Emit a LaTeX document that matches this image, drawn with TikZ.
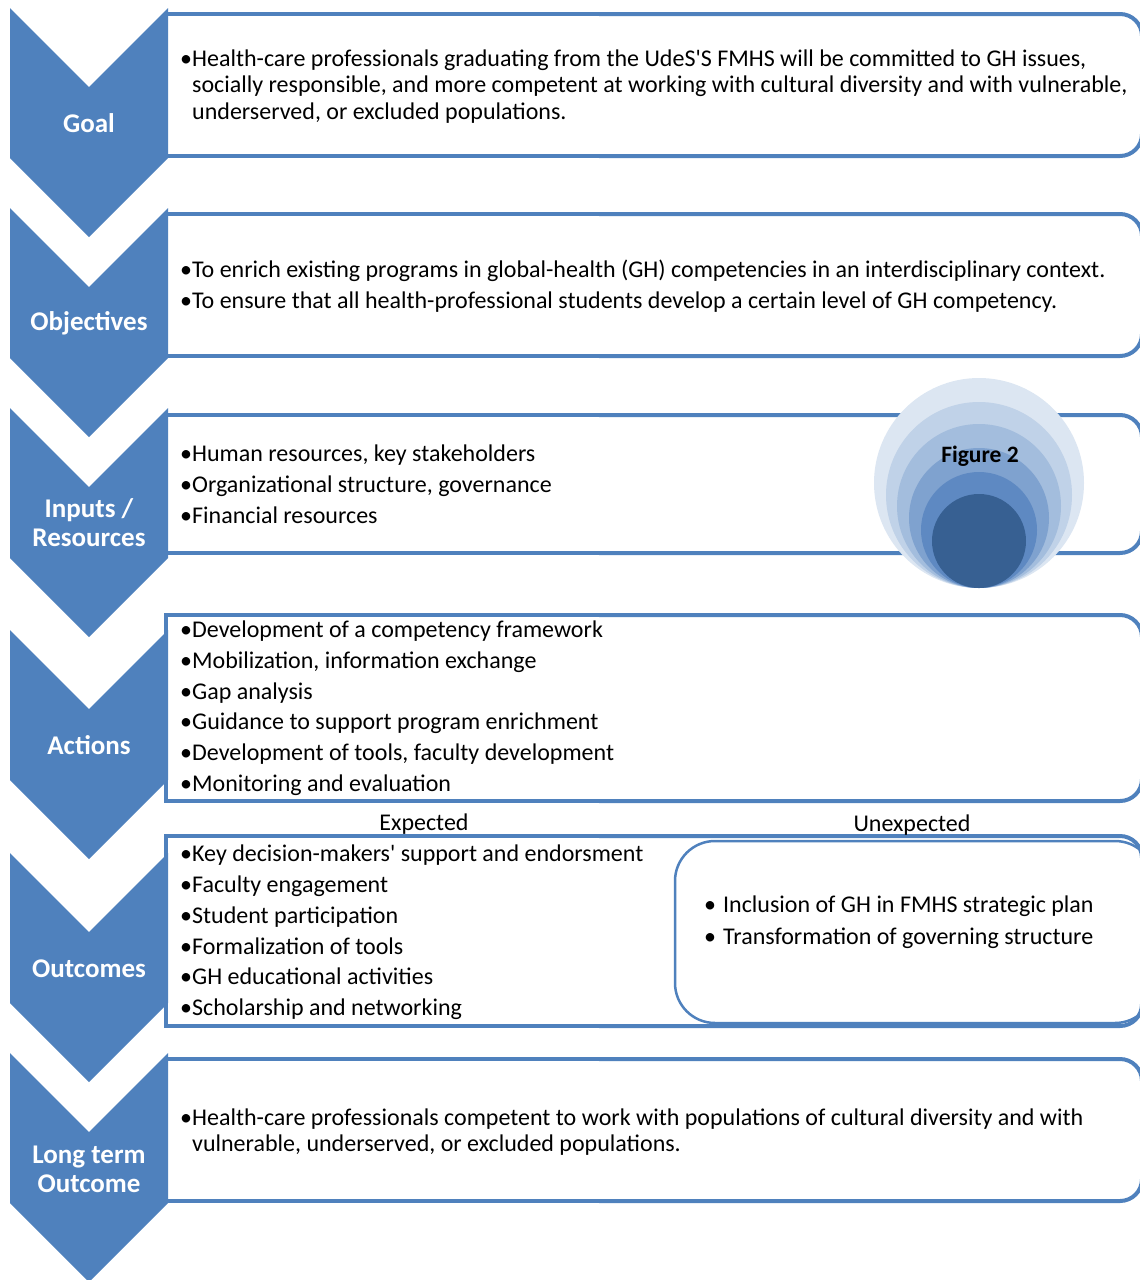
\documentclass[tikz,border=0pt]{standalone}
\usepackage{fontspec}
\setmainfont{Carlito}
\definecolor{acc}{HTML}{4F81BD}
\definecolor{ca}{HTML}{DCE6F2}
\definecolor{cb}{HTML}{C0D2E8}
\definecolor{cc}{HTML}{A3BDDD}
\definecolor{cd}{HTML}{7FA2CF}
\definecolor{ce}{HTML}{5E89C2}
\definecolor{cf}{HTML}{376092}
\tikzset{
  boxline/.style={draw=acc, line width=4pt},
  chev/.style={fill=acc, draw=none},
  lbl/.style={text=white, font=\fontsize{27}{29}\selectfont\bfseries, align=center, inner sep=0pt},
  txt/.style={anchor=base west, inner sep=0pt, font=\fontsize{24}{28}\selectfont},
  hdr/.style={anchor=base, inner sep=0pt, font=\fontsize{24}{28}\selectfont},
}
\newcommand{\chevpath}[1]{(10,#1) -- (89,#1+79) -- (168,#1) -- (168,#1+150) -- (89,#1+229) -- (10,#1+150) -- cycle}
\begin{document}
\begin{tikzpicture}[x=1pt,y=-1pt]
\useasboundingbox (0,0) rectangle (1140,1280);
\clip (0,0) rectangle (1140,1280);

% boxes
\foreach \t/\b in {14/156, 214/356, 415/553, 615/801, 836/1026, 1059/1201}{
  \fill[white] (166,\t) rectangle (1142,\b);
  \draw[boxline] (600,\t) -- (166,\t) -- (166,\b) -- (600,\b);
  \draw[boxline, rounded corners=22pt] (599,\t) -- (1142,\t) -- (1142,\b) -- (599,\b);
}
% unexpected box
\draw[draw=acc, line width=2.5pt, rounded corners=40pt] (675,841) rectangle (1155,1023);

% chevrons
\foreach \t in {8,208,408,630,853,1053}{
  \path[chev] \chevpath{\t};
}

% labels
\node[lbl] (lgoal) at (89,123) {Goal};
\node[lbl] (lobj) at (89,323) {Objectives};
\node[lbl] (linp) at (89,523) {Inputs /\\Resources};
\node[lbl] (lact) at (89,745) {Actions};
\node[lbl] (lout) at (89,969) {Outcomes};
\node[lbl] (llong) at (89,1169) {Long term\\Outcome};

% Goal text
\node[txt] (g1) at (180,66) {•Health-care professionals graduating from the UdeS\textquotesingle S FMHS will be committed to GH issues,};
\node[txt] (g2) at (192,92) {socially responsible, and more competent at working with cultural diversity and with vulnerable,};
\node[txt] (g3) at (192,119) {underserved, or excluded populations.};

% Objectives text
\node[txt] (o1) at (180,277) {•To enrich existing programs in global-health (GH) competencies in an interdisciplinary context.};
\node[txt] (o2) at (180,308) {•To ensure that all health-professional students develop a certain level of GH competency.};

% Inputs text
\node[txt] (i1) at (180,461) {•Human resources, key stakeholders};
\node[txt] (i2) at (180,492) {•Organizational structure, governance};
\node[txt] (i3) at (180,523) {•Financial resources};

% Figure 2 circles
\fill[ca] (979,483) circle (105);
\fill[cb] (979,495) circle (93);
\fill[cc] (979,506) circle (82);
\fill[cd] (979,518) circle (70);
\fill[ce] (979,530) circle (58);
\fill[cf] (979,541) circle (47);
\node[inner sep=0pt, font=\fontsize{23.5}{25}\selectfont\bfseries] (fig2) at (980,456) {Figure 2};

% Actions text
\node[txt] (a1) at (180,637) {•Development of a competency framework};
\node[txt] (a2) at (180,668) {•Mobilization, information exchange};
\node[txt] (a3) at (180,699) {•Gap analysis};
\node[txt] (a4) at (180,729) {•Guidance to support program enrichment};
\node[txt] (a5) at (180,760) {•Development of tools, faculty development};
\node[txt] (a6) at (180,791) {•Monitoring and evaluation};

% headers
\node[hdr] (hexp) at (424,830) {Expected};
\node[hdr] (hunx) at (912,831) {Unexpected};

% Outcomes text
\node[txt] (e1) at (180,861) {•Key decision-makers\textquotesingle\ support and endorsment};
\node[txt] (e2) at (180,892) {•Faculty engagement};
\node[txt] (e3) at (180,923) {•Student participation};
\node[txt] (e4) at (180,954) {•Formalization of tools};
\node[txt] (e5) at (180,984) {•GH educational activities};
\node[txt] (e6) at (180,1015) {•Scholarship and networking};

% Unexpected text
\node[txt] (u1) at (704,912) {•\hspace{7pt}Inclusion of GH in FMHS strategic plan};
\node[txt] (u2) at (704,944) {•\hspace{7pt}Transformation of governing structure};

% Long term text
\node[txt] (t1) at (180,1125) {•Health-care professionals competent to work with populations of cultural diversity and with};
\node[txt] (t2) at (192,1151) {vulnerable, underserved, or excluded populations.};
\end{tikzpicture}
\end{document}
